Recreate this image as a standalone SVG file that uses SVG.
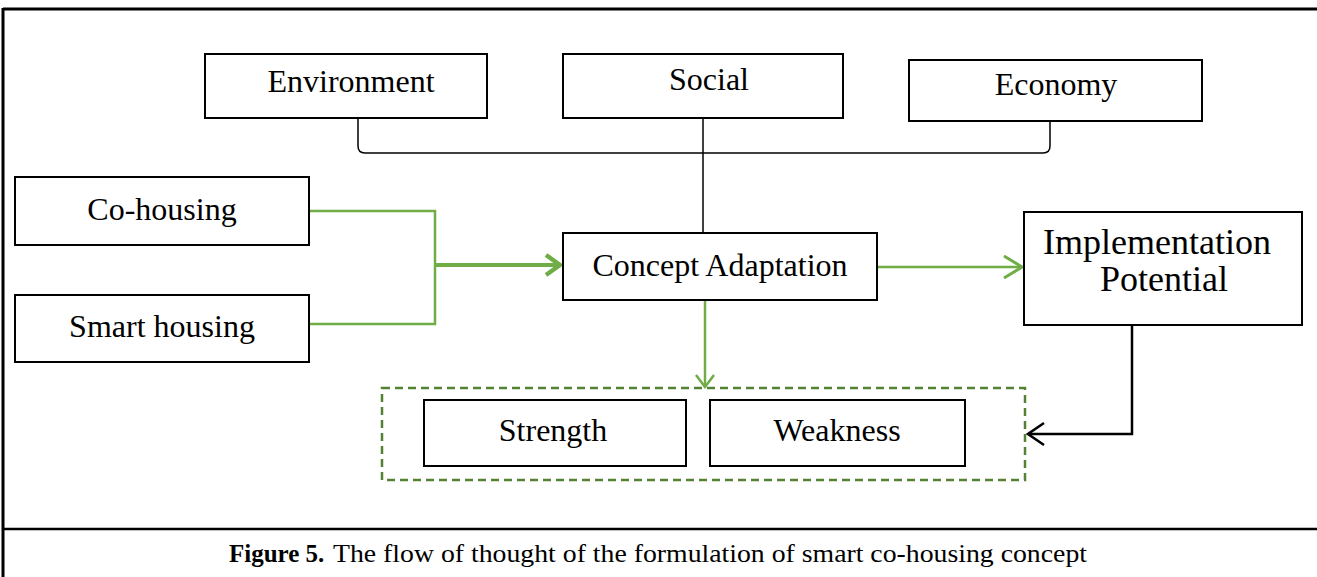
<svg xmlns="http://www.w3.org/2000/svg" width="1317" height="577" viewBox="0 0 1317 577">
<style>
.box{fill:#fff;stroke:#000;stroke-width:2}
.lbl{font-family:"Liberation Serif","Times New Roman",serif;font-size:32px;fill:#000;text-anchor:middle}
.big{font-size:36px}
.g{fill:none;stroke:#70ad47;stroke-width:2.5}
.k{fill:none;stroke:#000;stroke-width:1.5}
.cap{font-family:"Liberation Serif","Times New Roman",serif;font-size:25px;fill:#000}
</style>
<defs>
<marker id="ga" markerWidth="22" markerHeight="26" refX="20" refY="13" orient="auto" markerUnits="userSpaceOnUse">
<path d="M2,2 L20,13 L2,24" fill="none" stroke="#70ad47" stroke-width="3"/>
</marker>
<marker id="gd" markerWidth="16" markerHeight="22" refX="14" refY="11" orient="auto" markerUnits="userSpaceOnUse">
<path d="M2,2 L14,11 L2,20" fill="none" stroke="#70ad47" stroke-width="2.5"/>
</marker>
<marker id="ga2" markerWidth="20" markerHeight="26" refX="18" refY="13" orient="auto" markerUnits="userSpaceOnUse">
<path d="M3,3 L17,13 L3,23" fill="none" stroke="#70ad47" stroke-width="4.5"/>
</marker>
<marker id="ka" markerWidth="20" markerHeight="26" refX="18" refY="13" orient="auto" markerUnits="userSpaceOnUse">
<path d="M2,2 L18,13 L2,24" fill="none" stroke="#000" stroke-width="2.5"/>
</marker>
</defs>
<g id="frame">
<line x1="3" y1="9" x2="1317" y2="9" stroke="#000" stroke-width="3"/>
<line x1="3" y1="8" x2="3" y2="577" stroke="#000" stroke-width="3"/>
<line x1="3" y1="529" x2="1317" y2="529" stroke="#000" stroke-width="2.5"/>
</g>
<g id="connectors">
<path class="k" d="M358,118 L358,146 Q358,153 365,153 L1043,153 Q1050,153 1050,146 L1050,121"/>
<line class="k" x1="703" y1="118" x2="703" y2="233"/>
<polyline class="g" points="309,211 435,211 435,324 309,324"/>
<line x1="435" y1="265" x2="561" y2="265" stroke="#70ad47" stroke-width="4" marker-end="url(#ga2)"/>
<line class="g" x1="877" y1="267" x2="1022" y2="267" marker-end="url(#ga)"/>
<line class="g" x1="705" y1="300" x2="705" y2="387" marker-end="url(#gd)"/>
<path fill="none" stroke="#000" stroke-width="2.5" d="M1132,325 L1132,434 L1028,434" marker-end="url(#ka)"/>
</g>
<g id="environment"><rect class="box" x="205" y="54" width="282" height="64"/><text class="lbl" x="351" y="92">Environment</text></g>
<g id="social"><rect class="box" x="563" y="54" width="280" height="64"/><text class="lbl" x="709" y="90">Social</text></g>
<g id="economy"><rect class="box" x="909" y="60" width="293" height="61"/><text class="lbl" x="1056" y="95">Economy</text></g>
<g id="cohousing"><rect class="box" x="15" y="177" width="294" height="68"/><text class="lbl" x="162" y="220">Co-housing</text></g>
<g id="smarthousing"><rect class="box" x="15" y="295" width="294" height="67"/><text class="lbl" x="162" y="337">Smart housing</text></g>
<g id="concept"><rect class="box" x="563" y="233" width="314" height="67"/><text class="lbl" x="720" y="276">Concept Adaptation</text></g>
<g id="implementation"><rect class="box" x="1024" y="212" width="278" height="113"/><text class="lbl big" x="1157" y="254">Implementation</text><text class="lbl big" x="1164" y="291">Potential</text></g>
<g id="swgroup"><rect x="382" y="388" width="643" height="92" fill="none" stroke="#548235" stroke-width="2.5" stroke-dasharray="8,5"/></g>
<g id="strength"><rect class="box" x="424" y="400" width="262" height="66"/><text class="lbl" x="553" y="441">Strength</text></g>
<g id="weakness"><rect class="box" x="710" y="400" width="255" height="66"/><text class="lbl" x="837" y="441">Weakness</text></g>
<g id="caption">
<text class="cap" x="229" y="562" font-weight="bold">Figure 5.</text>
<text class="cap" x="333" y="562" textLength="754" lengthAdjust="spacingAndGlyphs">The flow of thought of the formulation of smart co-housing concept</text>
</g>
</svg>
